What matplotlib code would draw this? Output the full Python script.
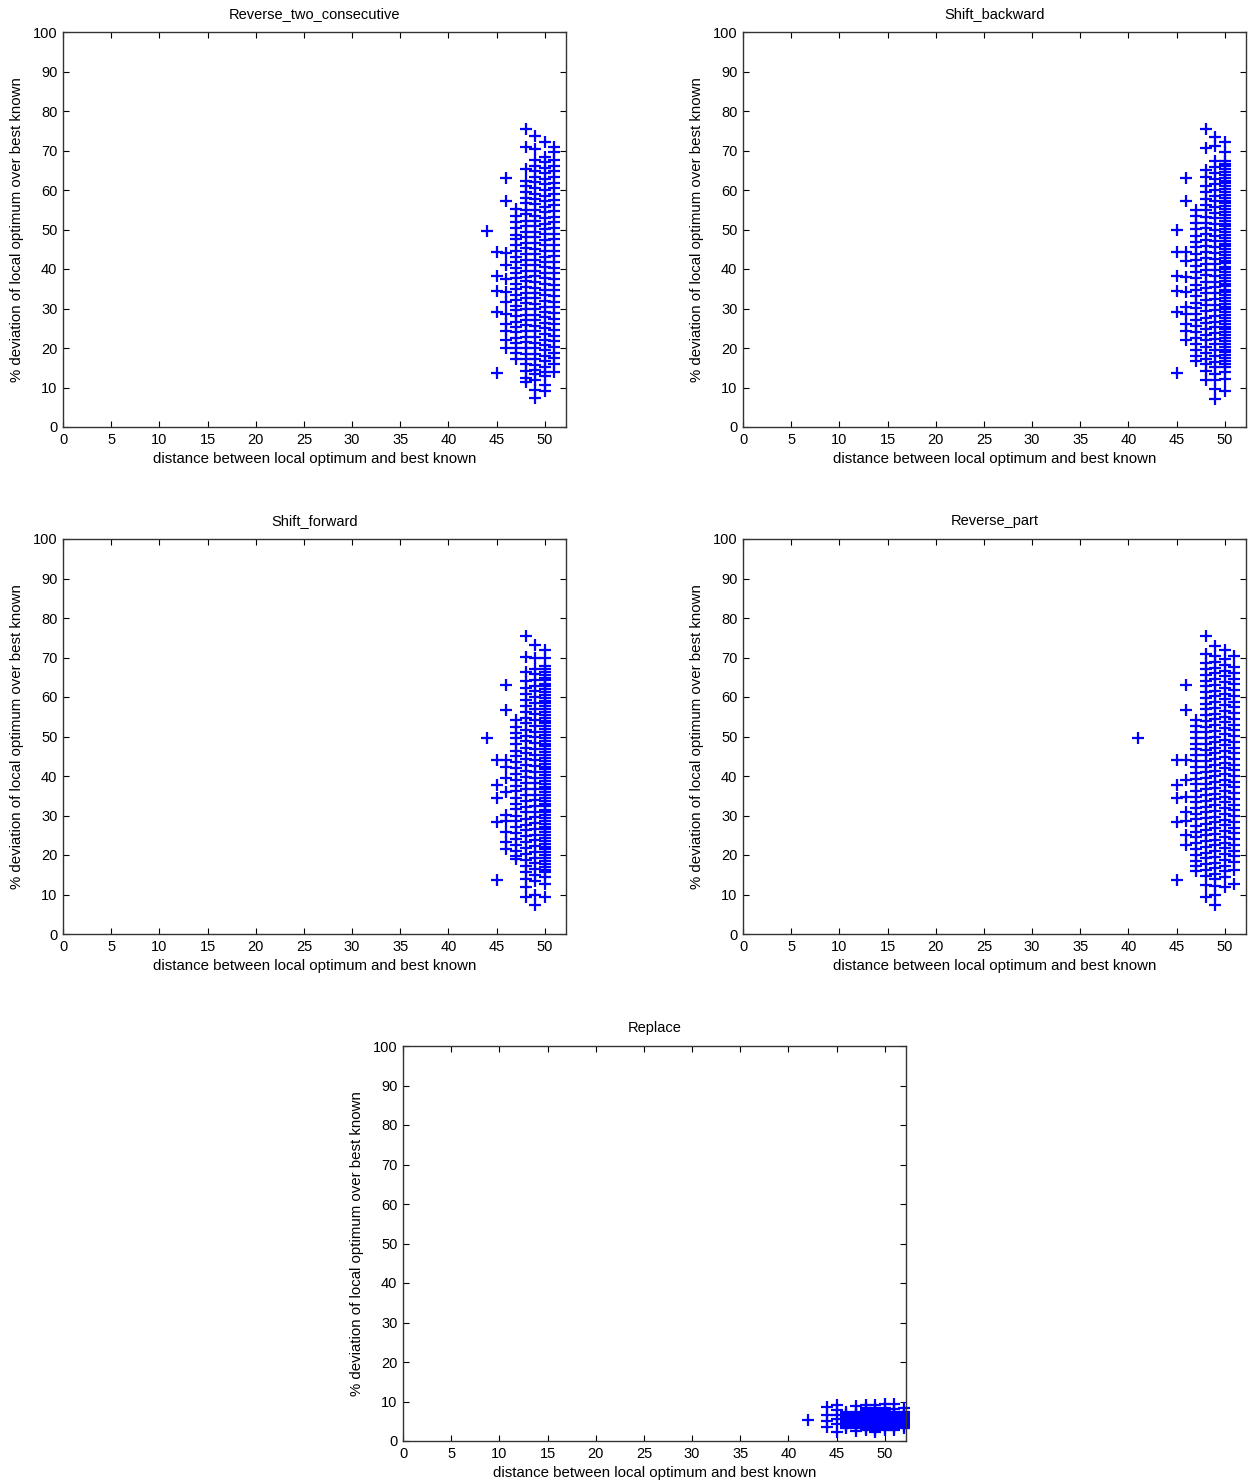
import numpy as np
import matplotlib
matplotlib.use("Agg")
import matplotlib.pyplot as plt

# distances (x) and % deviations (y), one list per column

# Reverse_two_consecutive
r2c_dist = [44, 45, 46, 47, 48, 49, 50, 51]
r2c_dev = [
    [49.6],
    [44.3, 38.2, 34.4, 29.0, 13.7],
    [63.0, 57.1, 44.1, 41.0, 37.4, 34.3, 31.6, 28.7, 26.2, 24.4, 22.0, 20.1],
    [55.2, 53.4, 52.0, 50.3, 48.7, 47.5, 46.0, 44.6, 43.1, 41.8, 40.3, 39.0, 37.6, 36.2,
     34.9, 33.4, 32.1, 30.7, 29.5, 28.2, 26.6, 25.3, 24.0, 22.6, 21.2, 20.1, 18.7, 17.3],
    [75.4, 70.8, 65.3, 62.4, 60.9, 59.6, 58.1, 56.7, 55.0, 53.8, 52.2, 50.9, 49.4, 48.1,
     46.6, 45.2, 43.9, 42.3, 41.0, 39.6, 38.1, 36.9, 35.4, 34.0, 32.6, 31.3, 29.9, 28.4,
     27.1, 25.7, 24.2, 22.9, 21.5, 20.0, 18.6, 17.3, 16.0, 14.2, 12.3, 11.4],
    [73.6, 70.4, 67.5, 66.2, 64.8, 63.3, 61.9, 60.6, 59.1, 57.8, 56.4, 55.0, 53.5, 52.2,
     50.8, 49.3, 48.0, 46.6, 45.1, 43.8, 42.4, 41.0, 39.5, 38.2, 36.8, 35.3, 34.0, 32.6,
     31.1, 29.8, 28.4, 27.0, 25.5, 24.2, 22.8, 21.3, 20.0, 18.6, 17.1, 15.8, 14.4, 13.5,
     11.9, 9.4, 7.3],
    [72.2, 68.4, 67.0, 65.5, 64.2, 62.7, 61.4, 59.9, 58.6, 57.2, 55.7, 54.4, 53.0, 51.5,
     50.2, 48.8, 47.3, 46.0, 44.6, 43.1, 41.8, 40.4, 38.9, 37.6, 36.2, 34.7, 33.4, 32.0,
     30.5, 29.2, 27.8, 26.3, 25.0, 23.6, 22.1, 20.8, 19.4, 17.9, 16.6, 15.2, 13.9, 12.8,
     10.6, 9.0],
    [71.0, 69.5, 67.6, 66.1, 64.7, 63.2, 61.8, 60.4, 58.9, 57.5, 56.1, 54.6, 53.2, 51.8,
     50.3, 48.9, 47.5, 46.0, 44.6, 43.2, 41.7, 40.3, 38.9, 37.4, 36.0, 34.6, 33.1, 31.7,
     30.3, 28.8, 27.4, 26.0, 24.5, 23.1, 21.7, 20.2, 18.8, 17.4, 16.0, 13.8],
]

# Shift_backward
sb_dist = [45, 46, 47, 48, 49, 50]
sb_dev = [
    [49.8, 44.3, 38.2, 34.4, 29.0, 13.7],
    [63.0, 57.1, 44.2, 42.0, 38.1, 34.2, 30.4, 28.6, 26.0, 24.3, 21.9],
    [55.0, 53.3, 51.6, 50.1, 48.4, 46.9, 45.5, 43.8, 42.4, 40.7, 39.3, 37.8, 36.0, 34.6,
     33.2, 31.5, 30.1, 28.7, 27.0, 25.6, 24.1, 22.5, 21.0, 19.6, 18.1, 16.8],
    [75.4, 70.6, 65.1, 63.4, 61.0, 59.4, 57.8, 56.3, 54.9, 53.2, 51.7, 50.4, 48.8, 47.3,
     45.9, 44.2, 42.8, 41.3, 39.7, 38.4, 36.8, 35.3, 33.9, 32.2, 30.8, 29.3, 27.7, 26.4,
     24.8, 23.3, 21.9, 20.2, 18.8, 17.2, 15.9, 14.1, 12.0],
    [73.5, 71.2, 67.3, 65.8, 64.4, 62.9, 61.5, 60.0, 58.6, 57.1, 55.7, 54.2, 52.8, 51.3,
     49.9, 48.4, 47.0, 45.5, 44.1, 42.6, 41.2, 39.7, 38.3, 36.8, 35.4, 33.9, 32.5, 31.0,
     29.6, 28.1, 26.7, 25.2, 23.8, 22.3, 20.9, 19.4, 18.0, 16.5, 15.1, 13.4, 11.8, 9.6, 7.2],
    [72.1, 69.6, 67.4, 66.7, 66.0, 65.3, 64.6, 63.8, 63.1, 62.4, 61.7, 60.9, 60.2, 59.5,
     58.8, 58.0, 57.3, 56.6, 55.9, 55.1, 54.4, 53.7, 53.0, 52.2, 51.5, 50.8, 50.1, 49.3,
     48.6, 47.9, 47.2, 46.4, 45.7, 45.0, 44.3, 43.5, 42.8, 42.1, 41.4, 40.6, 39.9, 39.2,
     38.5, 37.7, 37.0, 36.3, 35.6, 34.8, 34.1, 33.4, 32.7, 31.9, 31.2, 30.5, 29.8, 29.0,
     28.3, 27.6, 26.9, 26.1, 25.4, 24.7, 24.0, 23.2, 22.5, 21.8, 21.1, 20.3, 19.6, 18.9,
     18.2, 17.4, 16.7, 16.0, 15.3, 13.9, 12.2, 9.1],
]

# Shift_forward
sf_dist = [44, 45, 46, 47, 48, 49, 50]
sf_dev = [
    [49.5],
    [44.0, 37.7, 34.4, 28.4, 13.6],
    [63.0, 56.7, 44.1, 42.4, 39.5, 36.0, 30.2, 28.5, 25.8, 23.2, 21.4],
    [54.1, 52.5, 51.0, 49.6, 48.0, 46.4, 45.1, 43.5, 42.0, 40.6, 39.0, 37.5, 36.1, 34.5,
     33.0, 31.6, 30.0, 28.5, 27.1, 25.5, 24.0, 22.6, 21.0, 19.8, 18.9],
    [75.4, 70.2, 66.4, 64.0, 62.3, 60.7, 59.2, 57.8, 56.2, 54.7, 53.3, 51.7, 50.2, 48.8,
     47.2, 45.7, 44.3, 42.7, 41.2, 39.8, 38.2, 36.7, 35.3, 33.7, 32.2, 30.8, 29.2, 27.7,
     26.3, 24.7, 23.2, 21.8, 20.2, 18.7, 17.3, 15.6, 13.9, 11.8, 9.4],
    [73.1, 70.0, 67.2, 65.7, 64.3, 62.8, 61.4, 59.9, 58.5, 57.0, 55.6, 54.1, 52.7, 51.2,
     49.8, 48.3, 46.9, 45.4, 44.0, 42.5, 41.1, 39.6, 38.2, 36.7, 35.3, 33.8, 32.4, 30.9,
     29.5, 28.0, 26.6, 25.1, 23.7, 22.2, 20.8, 19.3, 17.9, 16.4, 15.0, 13.5, 9.8, 7.3],
    [72.0, 69.8, 67.8, 67.1, 66.3, 65.6, 64.9, 64.2, 63.4, 62.7, 62.0, 61.3, 60.5, 59.8,
     59.1, 58.4, 57.6, 56.9, 56.2, 55.5, 54.7, 54.0, 53.3, 52.6, 51.8, 51.1, 50.4, 49.7,
     48.9, 48.2, 47.5, 46.8, 46.0, 45.3, 44.6, 43.9, 43.1, 42.4, 41.7, 41.0, 40.2, 39.5,
     38.8, 38.1, 37.3, 36.6, 35.9, 35.2, 34.4, 33.7, 33.0, 32.3, 31.5, 30.8, 30.1, 29.4,
     28.6, 27.9, 27.2, 26.5, 25.7, 25.0, 24.3, 23.6, 22.8, 22.1, 21.4, 20.7, 19.9, 19.2,
     18.5, 17.8, 17.0, 16.3, 15.6, 14.5, 12.6, 9.3],
]

# Reverse_part
rp_dist = [41, 45, 46, 47, 48, 49, 50, 51]
rp_dev = [
    [49.5],
    [44.0, 37.7, 34.4, 28.4, 13.6],
    [63.0, 56.7, 44.0, 39.1, 34.6, 30.9, 28.5, 25.1, 22.6],
    [54.1, 52.6, 51.2, 49.7, 48.1, 46.8, 45.2, 43.7, 42.3, 40.8, 39.2, 37.9, 36.3, 34.8,
     33.4, 31.9, 30.3, 29.0, 27.4, 25.9, 24.5, 23.0, 21.4, 20.1, 18.5, 17.2, 16.0],
    [75.4, 71.0, 68.5, 67.0, 65.6, 64.1, 62.7, 61.2, 59.8, 58.3, 56.9, 55.4, 54.0, 52.5,
     51.1, 49.6, 48.2, 46.7, 45.3, 43.8, 42.4, 40.9, 39.5, 38.0, 36.6, 35.1, 33.7, 32.2,
     30.8, 29.3, 27.9, 26.4, 25.0, 23.5, 22.1, 20.6, 19.2, 17.7, 16.3, 14.8, 12.4, 9.4],
    [73.0, 70.5, 68.9, 67.4, 66.0, 64.5, 63.1, 61.6, 60.2, 58.7, 57.3, 55.8, 54.4, 52.9,
     51.5, 50.0, 48.6, 47.1, 45.7, 44.2, 42.8, 41.3, 39.9, 38.4, 37.0, 35.5, 34.1, 32.6,
     31.2, 29.7, 28.3, 26.8, 25.4, 23.9, 22.5, 21.0, 19.6, 18.1, 16.7, 15.2, 13.8, 12.1,
     9.9, 7.3],
    [72.0, 69.7, 68.1, 66.6, 65.2, 63.7, 62.3, 60.8, 59.4, 57.9, 56.5, 55.0, 53.6, 52.1,
     50.7, 49.2, 47.8, 46.3, 44.9, 43.4, 42.0, 40.5, 39.1, 37.6, 36.2, 34.7, 33.3, 31.8,
     30.4, 28.9, 27.5, 26.0, 24.6, 23.1, 21.7, 20.2, 18.8, 17.3, 15.9, 14.4, 12.0],
    [70.5, 67.5, 66.1, 64.6, 63.2, 61.7, 60.3, 58.8, 57.4, 55.9, 54.5, 53.0, 51.6, 50.1,
     48.7, 47.2, 45.8, 44.3, 42.9, 41.4, 40.0, 38.5, 37.1, 35.6, 34.2, 32.7, 31.3, 29.8,
     28.4, 26.9, 25.5, 24.0, 22.6, 21.1, 19.7, 18.2, 16.3, 12.7],
]

# Replace
rep_dist = [42, 44, 45, 46, 47, 48, 49, 50, 51, 52]
rep_dev = [
    [5.3],
    [8.7, 6.6, 5.1, 3.6],
    [9.1, 7.9, 6.6, 5.5, 4.3, 2.4],
    [7.4, 6.9, 6.4, 5.9, 5.4, 4.9, 4.4, 3.9, 3.4],
    [8.9, 7.4, 6.9, 6.4, 5.9, 5.4, 4.9, 4.4, 3.9, 3.4, 2.6],
    [9.2, 8.3, 7.8, 7.3, 6.8, 6.3, 5.8, 5.3, 4.8, 4.3, 3.8, 3.3, 2.8],
    [9.0, 8.3, 7.8, 7.3, 6.8, 6.3, 5.8, 5.3, 4.8, 4.3, 3.8, 3.3, 2.8, 2.3],
    [9.3, 8.3, 7.8, 7.3, 6.8, 6.3, 5.8, 5.3, 4.8, 4.3, 3.8, 3.3, 2.8],
    [9.4, 8.0, 7.4, 6.9, 6.4, 5.9, 5.4, 4.9, 4.4, 3.9, 3.4, 2.9],
    [8.3, 7.4, 6.9, 6.4, 5.9, 5.4, 4.9, 4.4, 3.9, 3.4],
]

titles = ["Reverse_two_consecutive", "Shift_backward", "Shift_forward",
          "Reverse_part", "Replace"]
xlabel = "distance between local optimum and best known"
ylabel = "% deviation of local optimum over best known"

plt.rcParams['font.family'] = ['Liberation Sans', 'DejaVu Sans']
plt.rcParams['font.size'] = 10

fig = plt.figure(figsize=(12.5, 14.83), dpi=100)

W, H = 503 / 1250, 395 / 1483
boxes = [(63, 32), (743, 32), (63, 539), (743, 539), (403, 1046)]
datas = [(r2c_dist, r2c_dev), (sb_dist, sb_dev), (sf_dist, sf_dev),
         (rp_dist, rp_dev), (rep_dist, rep_dev)]

for (px, py), title, (dist, dev) in zip(boxes, titles, datas):
    ax = fig.add_axes([px / 1250, 1 - py / 1483 - H, W, H])
    xs = np.concatenate([[d] * len(v) for d, v in zip(dist, dev)])
    ys = np.concatenate(dev)
    ax.plot(xs, ys, linestyle='none', marker='+', color='blue',
            markersize=8, markeredgewidth=1.6, clip_on=False)
    ax.set_xlim(0, 52.2)
    ax.set_ylim(0, 100)
    ax.set_xticks(range(0, 51, 5))
    ax.set_yticks(range(0, 101, 10))
    ax.tick_params(direction='in', top=True, right=True, length=4,
                   labelsize=10.5, pad=4)
    for s in ax.spines.values():
        s.set_color('#333333')
        s.set_linewidth(1.0)
    ax.set_title(title, fontsize=10.5, pad=10)
    ax.set_xlabel(xlabel, fontsize=10.8, labelpad=4)
    ax.set_ylabel(ylabel, fontsize=10.8, labelpad=6)

fig.savefig("out.png", dpi=100)
